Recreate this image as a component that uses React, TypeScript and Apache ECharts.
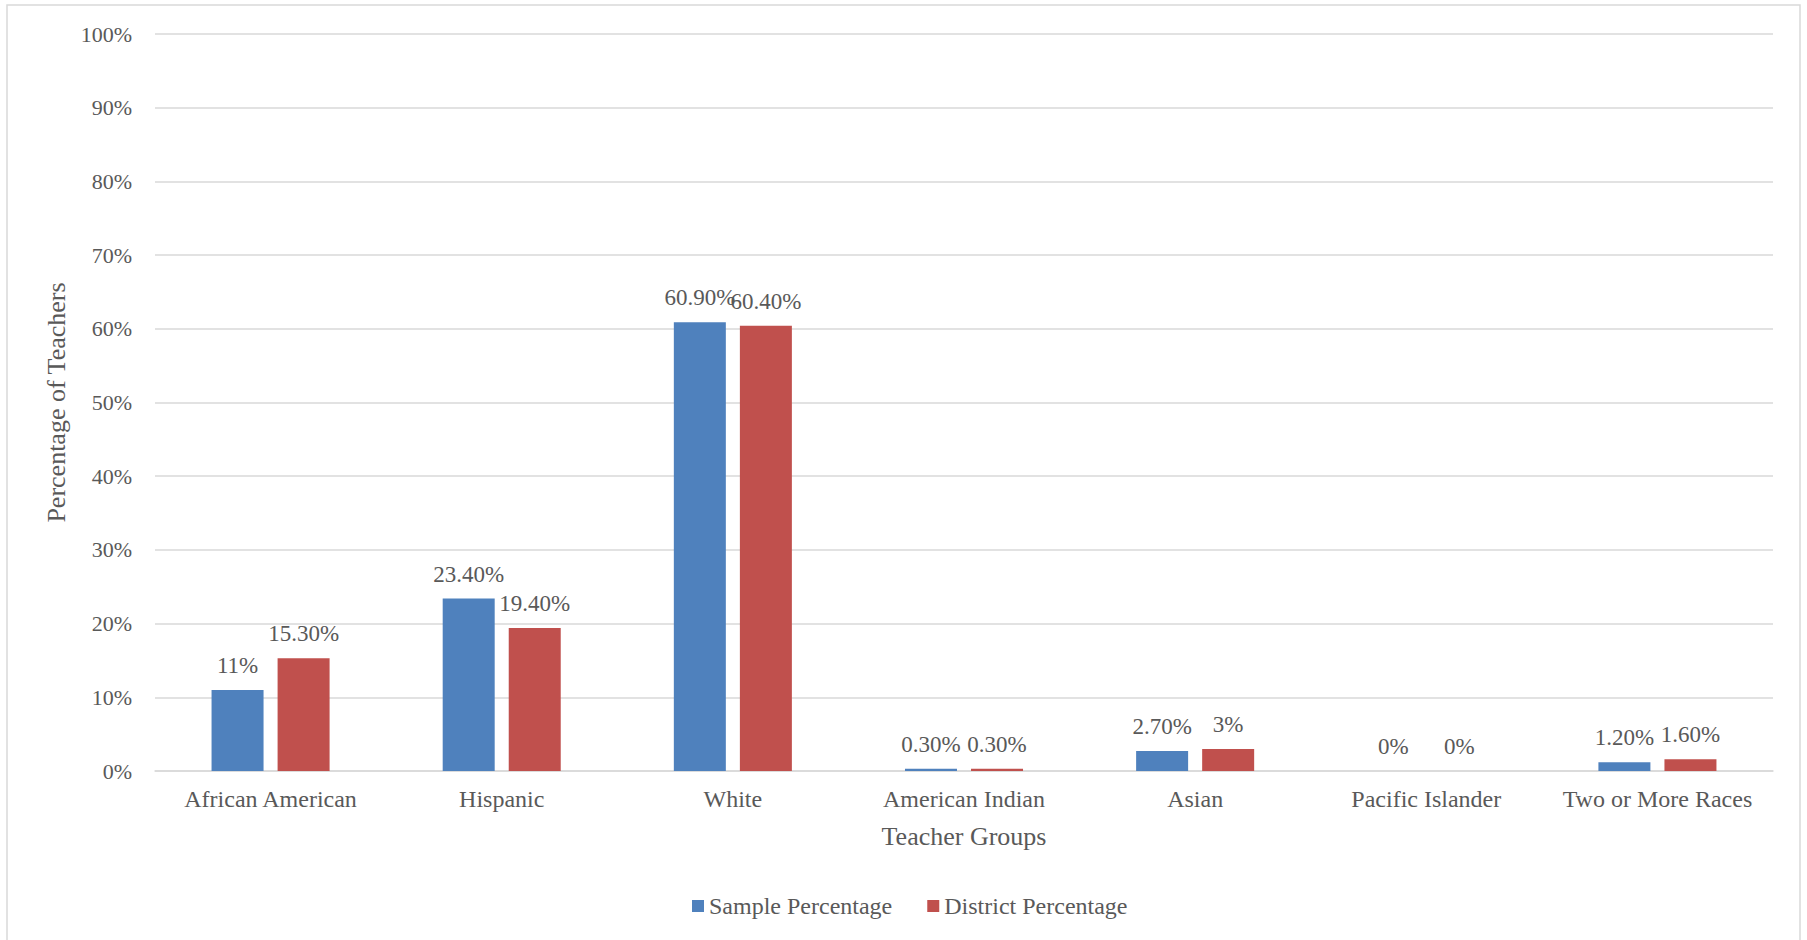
import React, { useEffect, useRef } from "react";
import * as echarts from "echarts";

// Teacher groups on the category axis
const categories = [
  "African American",
  "Hispanic",
  "White",
  "American Indian",
  "Asian",
  "Pacific Islander",
  "Two or More Races",
];

// Percentages per group
const samplePercentage = [11, 23.4, 60.9, 0.3, 2.7, 0, 1.2];
const districtPercentage = [15.3, 19.4, 60.4, 0.3, 3, 0, 1.6];

const seriesNames = ["Sample Percentage", "District Percentage"];
const seriesColors = ["#4F81BD", "#C0504D"];

const FONT = "'Liberation Serif', 'Times New Roman', serif";
const TEXT = "#595959";
const GRID = "#D9D9D9";

const pct = (v: number) =>
  Number.isInteger(v) ? `${v}%` : `${v.toFixed(2)}%`;

export default function App() {
  const ref = useRef<HTMLDivElement>(null);

  useEffect(() => {
    if (!ref.current) return;
    const chart = echarts.init(ref.current, null, { renderer: "svg" });

    const barLabel = {
      show: true,
      position: "top" as const,
      distance: 13,
      color: TEXT,
      fontFamily: FONT,
      fontSize: 23,
      formatter: (p: any) => pct(p.value as number),
    };

    chart.setOption({
      animation: false,
      backgroundColor: "#ffffff",
      textStyle: { fontFamily: FONT },
      graphic: [
        {
          type: "rect",
          shape: { x: 7, y: 5, width: 1793, height: 960 },
          style: { fill: "none", stroke: GRID, lineWidth: 1.5 },
          silent: true,
        },
      ],
      grid: { left: 155, right: 34, top: 34, bottom: 169 },
      legend: {
        left: 687,
        top: 889,
        icon: "rect",
        itemWidth: 12,
        itemHeight: 12,
        itemGap: 35,
        textStyle: { color: TEXT, fontFamily: FONT, fontSize: 24 },
        data: seriesNames,
      },
      xAxis: {
        type: "category",
        data: categories,
        name: "Teacher Groups",
        nameLocation: "middle",
        nameGap: 52,
        nameTextStyle: { color: TEXT, fontFamily: FONT, fontSize: 26 },
        axisLine: { lineStyle: { color: GRID, width: 1.5 } },
        axisTick: { show: false },
        axisLabel: {
          color: TEXT,
          fontFamily: FONT,
          fontSize: 24,
          margin: 16,
          interval: 0,
        },
      },
      yAxis: {
        type: "value",
        min: 0,
        max: 100,
        interval: 10,
        name: "Percentage of Teachers",
        nameLocation: "middle",
        nameGap: 85,
        nameTextStyle: { color: TEXT, fontFamily: FONT, fontSize: 26 },
        axisLine: { show: false },
        axisTick: { show: false },
        axisLabel: {
          color: TEXT,
          fontFamily: FONT,
          fontSize: 22,
          margin: 23,
          formatter: "{value}%",
        },
        splitLine: { lineStyle: { color: GRID, width: 1.5 } },
      },
      series: [
        {
          name: seriesNames[0],
          type: "bar",
          data: samplePercentage,
          barWidth: 52,
          barGap: "27%",
          itemStyle: { color: seriesColors[0] },
          label: barLabel,
        },
        {
          name: seriesNames[1],
          type: "bar",
          data: districtPercentage,
          barWidth: 52,
          barGap: "27%",
          itemStyle: { color: seriesColors[1] },
          label: barLabel,
        },
      ],
    });

    return () => chart.dispose();
  }, []);

  return (
    <div
      ref={ref}
      style={{
        position: "fixed",
        left: 0,
        top: 0,
        width: 1807,
        height: 940,
        background: "#ffffff",
      }}
    />
  );
}
